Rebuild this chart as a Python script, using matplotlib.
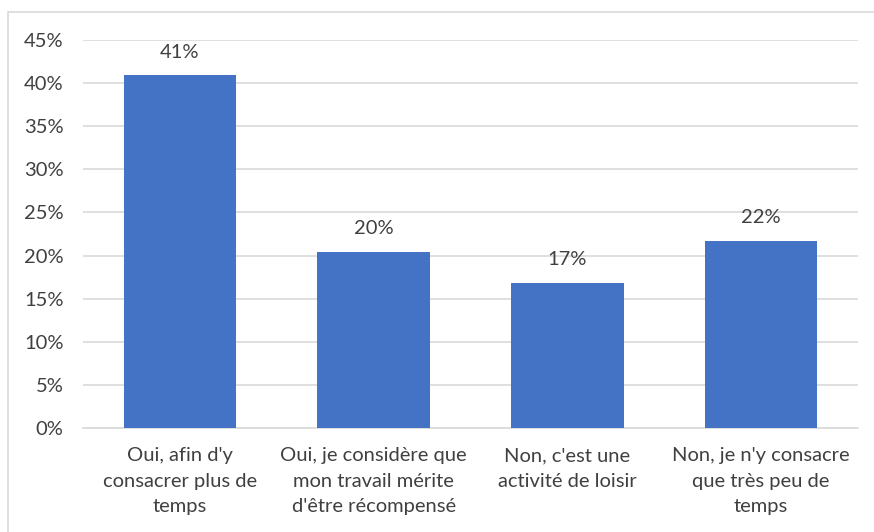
import matplotlib
matplotlib.use("Agg")
import matplotlib.pyplot as plt
from matplotlib.patches import Rectangle

categories = ["Oui, afin d'y\nconsacrer plus de\ntemps",
              "Oui, je considère que\nmon travail mérite\nd'être récompensé",
              "Non, c'est une\nactivité de loisir",
              "Non, je n'y consacre\nque très peu de\ntemps"]
values = [0.409, 0.204, 0.168, 0.217]
value_labels = ["41%", "20%", "17%", "22%"]
yticks = [0, 0.05, 0.10, 0.15, 0.20, 0.25, 0.30, 0.35, 0.40, 0.45]
ytick_labels = ["0%", "5%", "10%", "15%", "20%", "25%", "30%", "35%", "40%", "45%"]

plt.rcParams['font.family'] = ['Lato', 'DejaVu Sans']
FS = 14.5
fig = plt.figure(figsize=(8.74, 5.32), dpi=100)
fig.patches.append(Rectangle((8/874, -0.01), 1.0, 1 - 12/532 + 0.01, transform=fig.transFigure,
                             fill=False, edgecolor='#D9D9D9', linewidth=1.2))
ax = fig.add_axes([83/874, 1 - 428/532, 775/874, 388/532])
x = range(len(categories))
ax.bar(x, values, width=0.58, color='#4472C4', zorder=3)
for xi, v, lab in zip(x, values, value_labels):
    ax.text(xi, v + 0.017, lab, ha='center', va='bottom', fontsize=FS, color='#404040')
ax.set_ylim(0, 0.45)
ax.set_xlim(-0.5, len(categories) - 0.5)
ax.set_yticks(yticks)
ax.set_yticklabels(ytick_labels, fontsize=FS, color='#404040')
ax.set_xticks(list(x))
ax.set_xticklabels(categories, fontsize=FS, color='#404040', linespacing=1.6)
ax.grid(axis='y', color='#D9D9D9', linewidth=1.2, zorder=0)
for s in ['top', 'right', 'left']:
    ax.spines[s].set_visible(False)
ax.spines['bottom'].set_color('#D9D9D9')
ax.spines['bottom'].set_linewidth(1.2)
ax.tick_params(axis='y', length=0, pad=14)
ax.tick_params(axis='x', length=0, pad=14)
fig.savefig("out.png", dpi=100, facecolor='white')
